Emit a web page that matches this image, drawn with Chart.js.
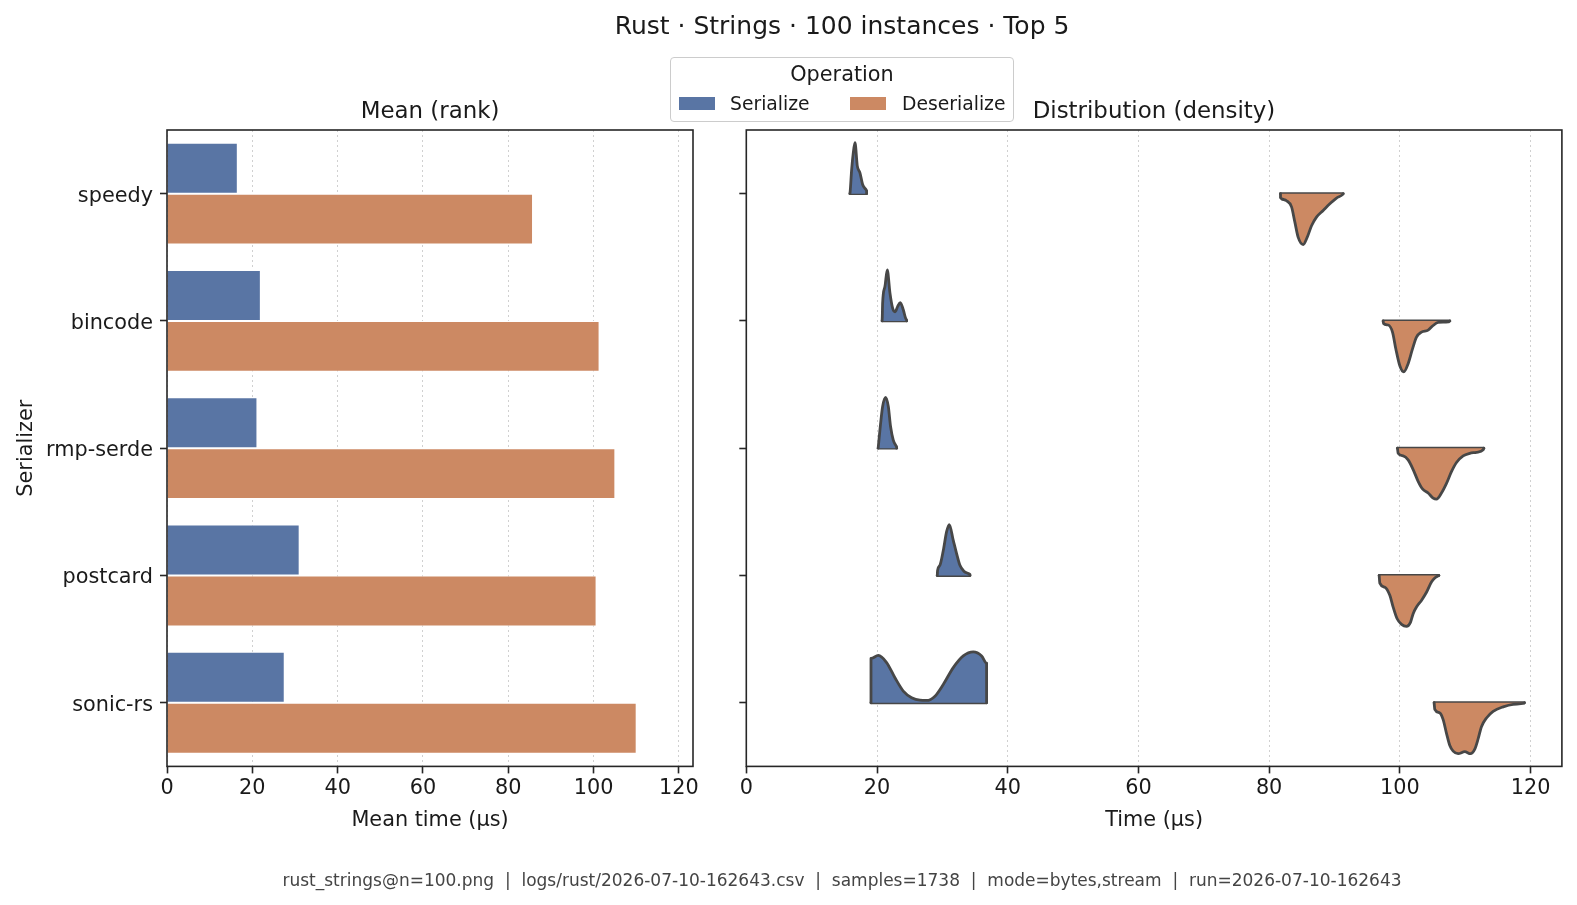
<!DOCTYPE html>
<html lang="en">
<head>
  <meta charset="UTF-8" />
  <title>Rust · Strings · 100 instances · Top 5</title>
  <script src="https://cdn.jsdelivr.net/npm/chart.js"></script>
  <style>
    body {
      margin: 0;
      background: #ffffff;
      font-family: 'DejaVu Sans', sans-serif;
      color: #1a1a1a;
    }
    #page { position: relative; width: 1577px; height: 905px; overflow: hidden; }
    canvas { position: absolute; left: 0; top: 0; }
    .txt { position: absolute; white-space: nowrap; transform: translate(-50%, -50%); line-height: 1; }
    .legend {
      position: absolute; left: 670px; top: 57px; width: 342px; height: 63px;
      border: 1px solid #cccccc; border-radius: 4px; background: rgba(255,255,255,0.8);
    }
    .legend .swatch { position: absolute; width: 36px; height: 13px; top: 39px; }
    .legend .lab { position: absolute; top: 46px; transform: translateY(-50%); font-size: 18.75px; line-height: 1; }
  </style>
</head>
<body>
<div id="page">
  <canvas id="meanChart" width="1577" height="905"></canvas>
  <canvas id="distChart" width="1577" height="905"></canvas>

  <div class="txt" style="left:842px; top:25px; font-size:25px;">Rust · Strings · 100 instances · Top 5</div>
  <div class="txt" style="left:430px; top:110px; font-size:22.9px;">Mean (rank)</div>
  <div class="txt" style="left:1154px; top:110px; font-size:22.9px;">Distribution (density)</div>

  <div class="legend">
    <div class="txt" style="left:171px; top:16px; font-size:20.8px;">Operation</div>
    <div class="swatch" style="left:8px; background:#5975a4;"></div>
    <div class="lab" style="left:59px;">Serialize</div>
    <div class="swatch" style="left:179px; background:#cc8963;"></div>
    <div class="lab" style="left:231px;">Deserialize</div>
  </div>

  <div class="txt" style="left:842px; top:880px; font-size:17px; color:#444444;">rust_strings@n=100.png&nbsp; | &nbsp;logs/rust/2026-07-10-162643.csv&nbsp; | &nbsp;samples=1738&nbsp; | &nbsp;mode=bytes,stream&nbsp; | &nbsp;run=2026-07-10-162643</div>
</div>

<script>
  // categories and mean times (µs)
  const categories = ['speedy', 'bincode', 'rmp-serde', 'postcard', 'sonic-rs'];
  const serializeMean = [16.6, 22.0, 21.2, 31.1, 27.6];
  const deserializeMean = [85.8, 101.4, 105.1, 100.7, 110.1];
  const timeTicks = [0, 20, 40, 60, 80, 100, 120];

  // density outlines: time (µs) and relative height (peak = 1)
  const serializeTimes = [
    [15.86, 15.9, 16.12, 16.37, 16.63, 16.99, 17.39, 17.80, 18.31, 18.41, 18.41],
    [20.78, 20.81, 20.86, 21.22, 21.57, 21.98, 22.39, 22.75, 23.15, 23.56, 24.02, 24.38, 24.53, 24.53],
    [20.18, 20.20, 20.45, 20.86, 21.32, 21.73, 22.08, 22.49, 22.90, 23.00, 23.00],
    [29.22, 29.27, 29.63, 30.14, 30.65, 31.06, 31.67, 32.18, 32.69, 33.30, 34.12, 34.22, 34.22],
    [19.08, 19.08, 20.20, 21.47, 22.75, 24.02, 25.30, 26.57, 27.59, 28.87, 30.14, 31.67, 33.20, 34.73, 36.01, 36.77, 36.77]
  ];
  const serializeDensity = [
    [0, 0.05, 0.47, 0.80, 1.0, 0.54, 0.41, 0.18, 0.08, 0.06, 0],
    [0, 0.08, 0.35, 0.68, 1.0, 0.55, 0.25, 0.18, 0.28, 0.36, 0.22, 0.05, 0.02, 0],
    [0, 0.03, 0.36, 0.82, 1.0, 0.82, 0.42, 0.16, 0.05, 0.03, 0],
    [0, 0.10, 0.20, 0.49, 0.86, 1.0, 0.69, 0.43, 0.20, 0.085, 0.03, 0.02, 0],
    [0, 0.87, 0.93, 0.79, 0.49, 0.23, 0.10, 0.05, 0.046, 0.13, 0.36, 0.69, 0.92, 1.0, 0.92, 0.78, 0]
  ];
  const deserializeTimes = [
    [81.74, 81.74, 81.90, 82.66, 83.43, 83.94, 84.45, 85.21, 85.82, 86.49, 87.25, 88.27, 89.29, 90.31, 91.23, 91.33],
    [97.45, 97.50, 98.22, 98.88, 99.39, 100.00, 100.61, 101.27, 101.94, 102.55, 103.31, 104.33, 105.10, 105.86, 107.40, 107.65],
    [99.64, 99.74, 100.51, 101.27, 102.04, 102.80, 103.47, 104.33, 105.10, 105.61, 106.37, 107.14, 107.90, 108.67, 109.69, 110.71, 111.73, 112.75, 112.85],
    [96.84, 96.94, 97.71, 98.47, 98.98, 99.59, 100.26, 101.02, 101.63, 102.04, 102.55, 103.31, 104.08, 104.84, 105.35, 105.97],
    [105.25, 105.35, 106.12, 106.63, 107.14, 107.65, 108.16, 108.92, 109.94, 110.81, 111.47, 111.98, 112.49, 113.26, 114.28, 115.81, 117.34, 118.97, 119.07]
  ];
  const deserializeDensity = [
    [0, 0.08, 0.10, 0.14, 0.26, 0.56, 0.86, 1.0, 0.86, 0.63, 0.46, 0.33, 0.20, 0.086, 0.02, 0],
    [0, 0.05, 0.08, 0.22, 0.55, 0.88, 1.0, 0.84, 0.55, 0.32, 0.22, 0.18, 0.09, 0.03, 0.02, 0],
    [0, 0.10, 0.15, 0.23, 0.42, 0.65, 0.80, 0.88, 0.98, 1.0, 0.88, 0.69, 0.46, 0.28, 0.15, 0.10, 0.08, 0.03, 0],
    [0, 0.15, 0.23, 0.39, 0.62, 0.85, 0.96, 1.0, 0.92, 0.75, 0.62, 0.49, 0.33, 0.13, 0.05, 0],
    [0, 0.13, 0.20, 0.33, 0.60, 0.84, 0.95, 1.0, 0.96, 1.0, 0.91, 0.71, 0.47, 0.30, 0.17, 0.08, 0.03, 0.01, 0]
  ];

  const BLUE = '#5975a4';
  const ORANGE = '#cc8963';
  const EDGE = '#474747';
  const INK = '#1a1a1a';
  const SPINE = '#262626';
  const tickFont = { family: 'DejaVu Sans', size: 20.8 };
  const halfWidth = 0.4;

  Chart.defaults.font.family = 'DejaVu Sans';
  Chart.defaults.animation = false;

  const frame = {
    id: 'frame',
    afterDatasetsDraw(chart) {
      const { ctx, chartArea: a } = chart;
      ctx.save();
      ctx.strokeStyle = SPINE;
      ctx.lineWidth = 1.6;
      ctx.strokeRect(a.left, a.top, a.right - a.left, a.bottom - a.top);
      ctx.restore();
    }
  };

  function timeAxis(max, label) {
    return {
      type: 'linear', min: 0, max: max,
      afterBuildTicks: s => { s.ticks = timeTicks.map(v => ({ value: v })); },
      afterFit: s => { s.height = 70; },
      ticks: { font: tickFont, color: INK, padding: 3, maxRotation: 0 },
      grid: { color: '#d0d0d0', lineWidth: 1, tickLength: 7, tickColor: SPINE, tickWidth: 1.6 },
      border: { display: false, dash: [2, 3] },
      title: { display: true, text: label, font: tickFont, color: INK, padding: { top: 0, bottom: 3 } }
    };
  }

  // left: mean time bars
  new Chart(document.getElementById('meanChart'), {
    type: 'bar',
    data: {
      labels: categories,
      datasets: [
        { label: 'Serialize', data: serializeMean, backgroundColor: BLUE, borderColor: '#ffffff', borderWidth: 1 },
        { label: 'Deserialize', data: deserializeMean, backgroundColor: ORANGE, borderColor: '#ffffff', borderWidth: 1 }
      ]
    },
    options: {
      responsive: false,
      indexAxis: 'y',
      categoryPercentage: 0.8,
      barPercentage: 1.0,
      layout: { padding: { left: 0, top: 130, right: 884, bottom: 68.6 } },
      plugins: { legend: { display: false }, tooltip: { enabled: false } },
      scales: {
        x: timeAxis(123.3, 'Mean time (µs)'),
        y: {
          type: 'category',
          afterFit: s => { s.width = 167; },
          ticks: { font: tickFont, color: INK, padding: 7, labelOffset: 2.5 },
          grid: { offset: false, drawOnChartArea: false, tickLength: 7, tickColor: SPINE, tickWidth: 1.6 },
          border: { display: false },
          title: { display: true, text: 'Serializer', font: tickFont, color: INK, padding: { top: 14.5, bottom: 0 } }
        }
      }
    },
    plugins: [frame]
  });

  // right: half violins, serialize above the row line, deserialize below
  const violinSets = [];
  function addViolin(times, dens, row, dir, color) {
    violinSets.push({
      data: times.map((t, k) => ({ x: t, y: row + dir * halfWidth * dens[k] })),
      backgroundColor: color,
      borderColor: EDGE,
      borderWidth: 2.8,
      borderJoinStyle: 'round',
      borderCapStyle: 'round',
      pointRadius: 0,
      cubicInterpolationMode: 'monotone',
      fill: { value: row }
    });
    violinSets.push({
      data: [{ x: times[0], y: row }, { x: times[times.length - 1], y: row }],
      borderColor: EDGE,
      borderWidth: 2.8,
      borderCapStyle: 'round',
      pointRadius: 0,
      fill: false
    });
  }
  categories.forEach((c, i) => {
    addViolin(serializeTimes[i], serializeDensity[i], i, -1, BLUE);
    addViolin(deserializeTimes[i], deserializeDensity[i], i, 1, ORANGE);
  });

  new Chart(document.getElementById('distChart'), {
    type: 'line',
    data: { datasets: violinSets },
    options: {
      responsive: false,
      layout: { padding: { left: 706.3, top: 130, right: 15.1, bottom: 68.6 } },
      plugins: { legend: { display: false }, tooltip: { enabled: false } },
      scales: {
        x: timeAxis(124.8, 'Time (µs)'),
        y: {
          type: 'linear', min: -0.5, max: 4.5, reverse: true,
          afterBuildTicks: s => { s.ticks = categories.map((c, i) => ({ value: i })); },
          afterFit: s => { s.width = 40; },
          ticks: { callback: () => '', font: tickFont },
          grid: { drawOnChartArea: false, tickLength: 7, tickColor: SPINE, tickWidth: 1.6 },
          border: { display: false }
        }
      }
    },
    plugins: [frame]
  });
</script>
</body>
</html>
